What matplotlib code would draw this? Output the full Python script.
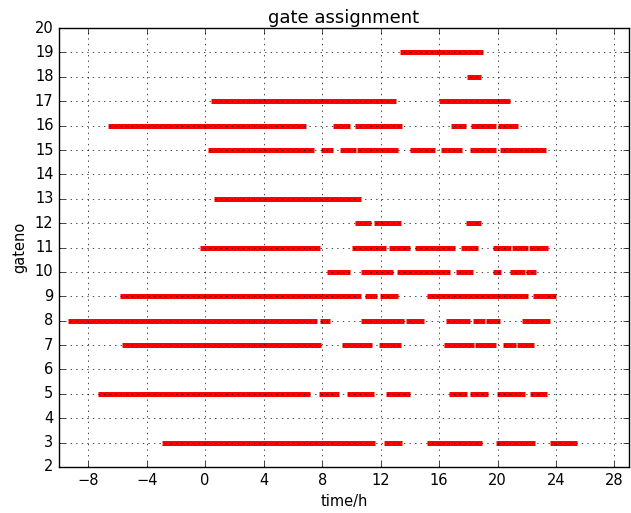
import matplotlib
matplotlib.use("Agg")
import matplotlib.pyplot as plt

# gate number -> list of (start, end) occupation intervals in hours
gate3 = [(-2.96, 11.65), (12.24, 13.46), (15.19, 18.96), (19.88, 22.53), (23.58, 25.41)]
gate5 = [(-7.35, 7.14), (7.8, 9.13), (9.68, 11.58), (12.36, 13.98), (16.67, 17.91),
         (18.12, 19.35), (19.99, 21.91), (22.19, 23.35)]
gate7 = [(-5.7, 7.9), (9.36, 11.4), (11.88, 13.41), (16.31, 18.39), (18.48, 19.92),
         (20.36, 21.23), (21.36, 22.48)]
gate8 = [(-9.41, 7.62), (7.87, 8.56), (10.66, 13.59), (13.75, 14.96), (16.49, 18.09),
         (18.3, 19.17), (19.24, 20.15), (21.69, 23.61)]
gate9 = [(-5.8, 10.69), (10.94, 11.72), (11.99, 13.2), (15.19, 22.1), (22.41, 23.97)]
gate10 = [(8.31, 9.89), (10.66, 12.84), (13.13, 16.72), (17.18, 18.33), (19.69, 20.22),
          (20.88, 21.87), (21.93, 22.65)]
gate11 = [(-0.38, 7.87), (10.05, 12.38), (12.6, 13.98), (14.37, 17.11), (17.48, 18.67),
          (19.69, 20.95), (21.02, 22.08), (22.12, 23.47)]
gate12 = [(10.23, 11.33), (11.56, 13.41), (17.87, 18.85)]
gate13 = [(0.61, 10.64)]
gate15 = [(0.22, 7.46), (7.92, 8.72), (9.25, 10.32), (10.39, 13.22), (13.98, 15.74),
          (16.1, 17.59), (18.12, 19.9), (20.2, 23.31)]
gate16 = [(-6.66, 6.89), (8.72, 9.89), (10.23, 13.46), (16.85, 17.84), (18.16, 19.9),
          (20.04, 21.41)]
gate17 = [(0.42, 13.07), (15.99, 20.84)]
gate18 = [(17.94, 18.85)]
gate19 = [(13.36, 18.98)]

gates = [3, 5, 7, 8, 9, 10, 11, 12, 13, 15, 16, 17, 18, 19]
intervals = [gate3, gate5, gate7, gate8, gate9, gate10, gate11, gate12, gate13,
             gate15, gate16, gate17, gate18, gate19]

plt.style.use("classic")
plt.rcParams["font.size"] = 10.5
fig = plt.figure(figsize=(6.31, 5.13), dpi=100, facecolor="white")
ax = fig.add_axes([0.0935, 0.0897, 0.9035, 0.8555])

for g, segs in zip(gates, intervals):
    starts = [s for s, e in segs]
    ends = [e for s, e in segs]
    ax.hlines([g] * len(segs), starts, ends, colors="r", linewidth=3.6,
              capstyle="butt")

ax.set_xlim(-10, 29)
ax.set_ylim(2, 20)
ax.set_xticks(range(-8, 29, 4))
ax.set_yticks(range(2, 21))
ax.tick_params(labelsize=10.5)
ax.grid(True)
ax.set_title("gate assignment", fontsize=13, pad=4)
ax.set_xlabel("time/h", fontsize=10.5)
ax.set_ylabel("gateno", fontsize=10.5)

fig.savefig("out.png", dpi=100, facecolor="white")
